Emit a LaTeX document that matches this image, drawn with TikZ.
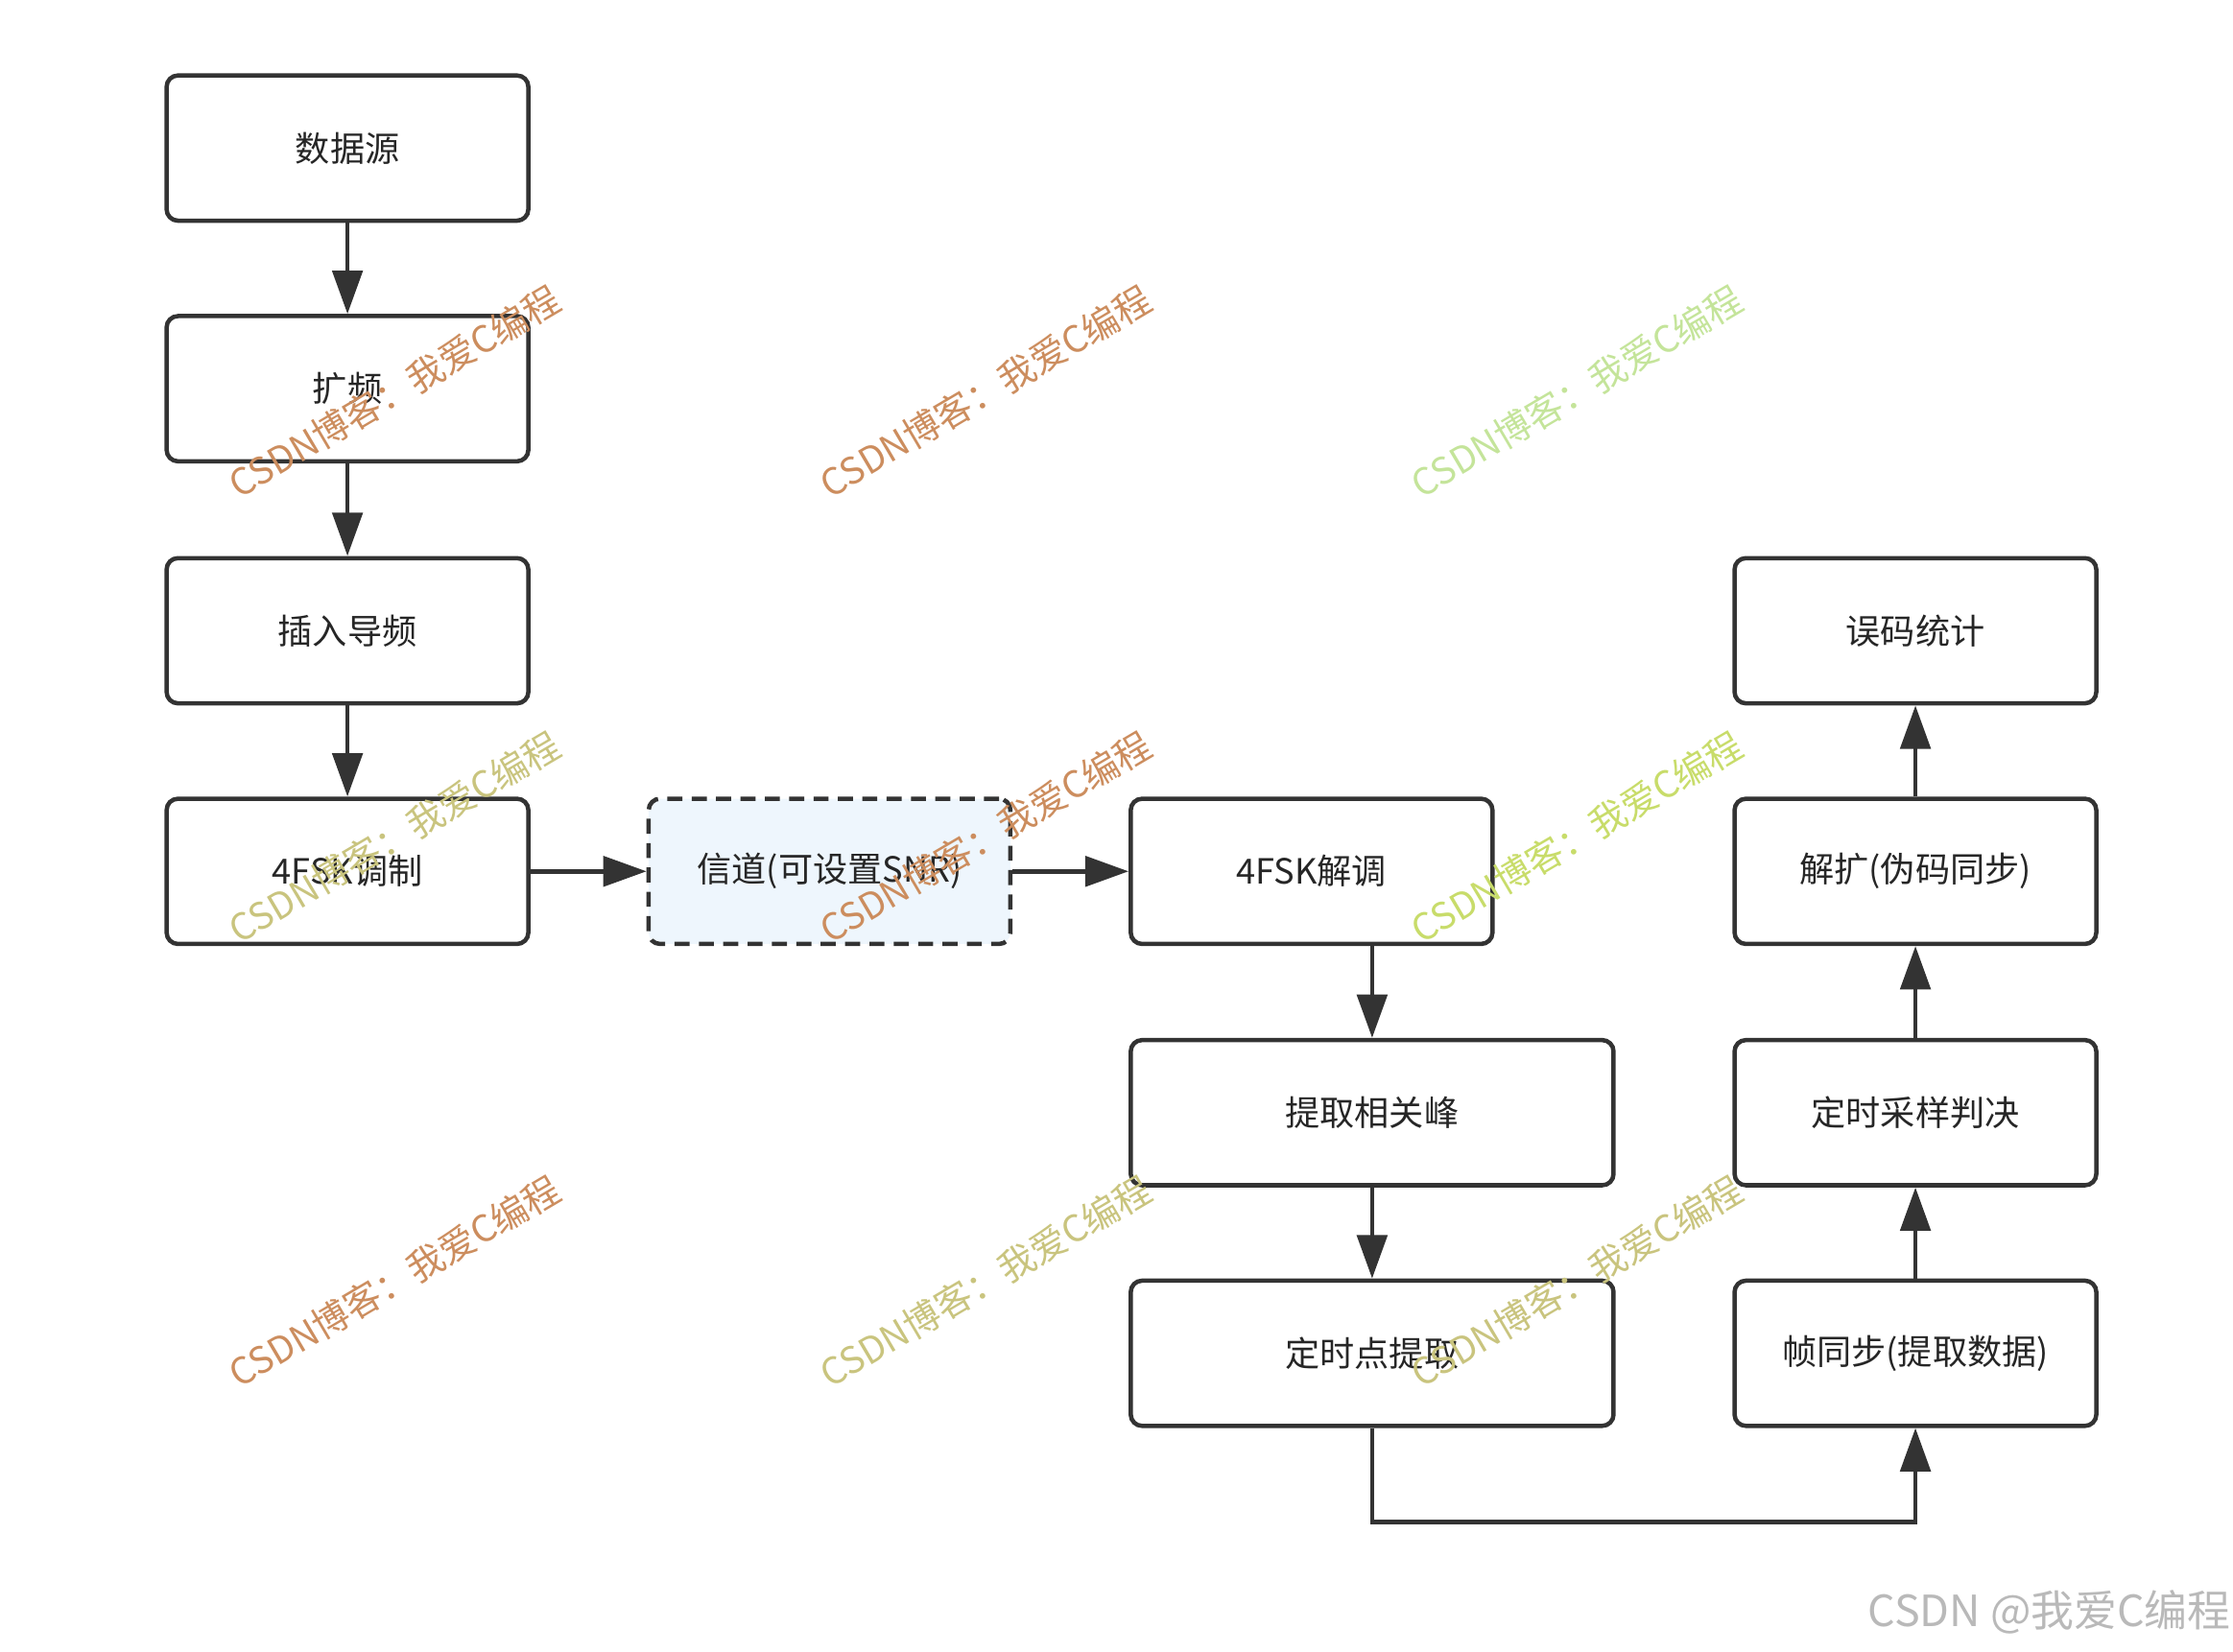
\documentclass[tikz,border=0pt]{standalone}
\usepackage{fontspec}
\setmainfont{Noto Sans CJK SC}
\usetikzlibrary{arrows.meta}
\definecolor{edge}{HTML}{333333}
\definecolor{chanfill}{HTML}{EEF6FD}
\definecolor{wmorange}{HTML}{CC8D5E}
\definecolor{wmolive}{HTML}{C9C47E}
\definecolor{wmgreen}{HTML}{C4E49A}
\definecolor{wmlime}{HTML}{C8DC6A}
\tikzset{
  block/.style={draw=edge, line width=1.3pt, rounded corners=3.4pt, fill=white,
    minimum width=3.81cm, minimum height=1.53cm, text=black!85,
    font=\fontsize{10.4}{12}\selectfont},
  wideblock/.style={block, minimum width=5.085cm},
  flow/.style={draw=edge, line width=1.3pt, -{Triangle[length=13pt,width=9pt]}},
  wmtext/.style={rotate=30.5, font=\fontsize{11}{13}\selectfont, inner sep=0pt},
}
\begin{document}
\begin{tikzpicture}[x=0.015cm, y=-0.015cm]
    \useasboundingbox (0,0) rectangle (1568,1160);

    % Transmitter chain
    \node[block] (src)    at (244,104) {数据源};
    \node[block] (spread) at (244,273) {扩频};
    \node[block] (pilot)  at (244,443) {插入导频};
    \node[block] (mod)    at (244,612) {4FSK调制};

    % Channel
    \node[block, fill=chanfill, dash pattern=on 4.5pt off 2.8pt] (chan) at (582.5,612) {信道(可设置SNR)};

    % Receiver chain
    \node[block]     (demod)    at (921,612)     {4FSK解调};
    \node[wideblock] (peak)     at (963.5,781.5) {提取相关峰};
    \node[wideblock] (timing)   at (963.5,950.5) {定时点提取};
    \node[block]     (frame)    at (1345,950.5)  {帧同步(提取数据)};
    \node[block]     (sample)   at (1345,781.5)  {定时采样判决};
    \node[block]     (despread) at (1345,612)    {解扩(伪码同步)};
    \node[block]     (ber)      at (1345,443)    {误码统计};

    \coordinate (bend) at (963.5,1069);

    % Arrows
    \draw[flow] (src.south) -- (spread.north);
    \draw[flow] (spread.south) -- (pilot.north);
    \draw[flow] (pilot.south) -- (mod.north);
    \draw[flow] (mod.east) -- (chan.west);
    \draw[flow] (chan.east) -- (demod.west);
    \draw[flow] (peak.north |- demod.south) -- (peak.north);
    \draw[flow] (peak.south) -- (timing.north);
    \draw[flow] (timing.south) -- (bend) -| (frame.south);
    \draw[flow] (frame.north) -- (sample.south);
    \draw[flow] (sample.north) -- (despread.south);
    \draw[flow] (despread.north) -- (ber.south);

    % Watermarks
    \foreach \x/\y/\c in {277/275/wmorange, 692/275/wmorange, 1107/275/wmgreen,
                          277/588/wmolive, 692/588/wmorange, 1107/588/wmlime,
                          277/900/wmorange, 692/900/wmolive, 1107/900/wmolive}
        \node[wmtext, text=\c] (wm) at (\x,\y) {CSDN博客：我爱C编程};

    \node[font=\fontsize{12.9}{15}\selectfont, text=gray!55] (sig) at (1439,1132) {CSDN @我爱C编程};
\end{tikzpicture}
\end{document}
